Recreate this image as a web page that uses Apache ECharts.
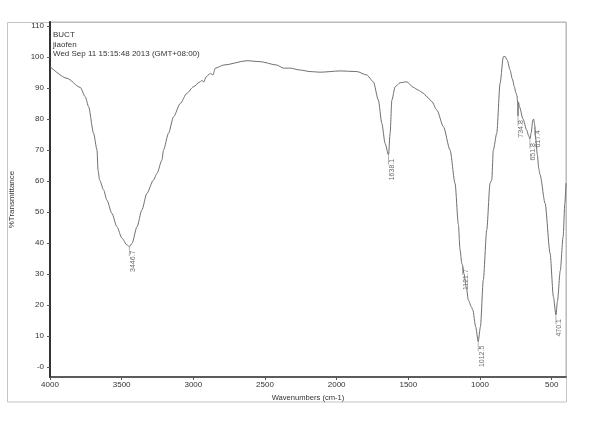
<!DOCTYPE html>
<html>
<head>
<meta charset="utf-8">
<script src="https://cdn.jsdelivr.net/npm/echarts@6/dist/echarts.min.js"></script>
<style>
  html, body { margin: 0; padding: 0; background: #fff; }
  #chart { width: 600px; height: 432px; }
</style>
</head>
<body>
<div id="chart"></div>
<script>
// spectrum, wavenumber (cm-1) and %T
const wavenumbers = [
  4000, 3881, 3789, 3754, 3731, 3696, 3672, 3665, 3654, 3626, 3603, 3568, 3533, 3498, 3463,
  3446.7, 3428, 3393, 3359, 3324, 3278, 3254, 3219, 3208, 3173, 3138, 3091, 3045, 2999,
  2952, 2940, 2929, 2910, 2882, 2863, 2847, 2789, 2626, 2534, 2417, 2371, 2324, 2255,
  2185, 2115, 1976, 1859, 1790, 1744, 1709, 1685, 1662, 1638.1, 1627, 1615, 1592, 1557,
  1511, 1465, 1430, 1395, 1371, 1336, 1301, 1255, 1209, 1174, 1151, 1139, 1127, 1121.7,
  1112, 1095, 1081, 1060, 1050, 1030, 1012.5, 997, 977, 953, 930, 918, 907, 883, 860,
  837, 825, 810, 790, 775, 760, 750, 742, 737, 734.8, 732, 725, 700, 675, 660, 651.8,
  643, 632, 626, 620, 617.4, 612, 600, 590, 581, 546, 511, 488, 470.1, 460, 440, 420,
  408, 400
];
const transmittance = [
  96.9, 93.1, 90.2, 87.2, 84.0, 75.4, 70.0, 63.5, 60.3, 57.1, 53.8, 49.5, 45.2, 41.5, 39.3,
  38.8, 39.8, 45.2, 50.6, 56.0, 60.3, 62.4, 66.7, 70.0, 75.4, 80.7, 85.0, 88.3, 90.4,
  92.0, 92.5, 91.9, 93.6, 94.7, 94.2, 96.4, 97.4, 98.8, 98.5, 97.4, 96.4, 96.4, 95.8,
  95.3, 95.1, 95.5, 95.3, 94.2, 92.0, 86.1, 78.6, 72.1, 68.4, 75.4, 86.1, 90.4, 91.7,
  92.0, 90.2, 89.3, 88.3, 87.2, 85.6, 82.9, 77.5, 70.0, 59.2, 46.0, 37.7, 33.4, 32.8,
  30.0, 25.5, 21.5, 19.3, 18.3, 12.9, 8.1, 12.9, 28.0, 44.1, 59.2, 60.3, 70.0, 75.4, 91.5,
  100.1, 100.2, 99.0, 95.8, 93.0, 90.4, 88.5, 87.5, 85.0, 80.9, 85.5, 84.0, 80.0, 76.5, 74.5, 73.5,
  75.5, 79.5, 80.0, 78.5, 77.7, 74.0, 68.5, 64.0, 62.0, 52.8, 36.6, 22.6, 16.7, 21.0, 31.0, 42.0,
  52.8, 59.3
];

// labelled peaks
const peakWavenumbers = [3446.7, 1638.1, 1121.7, 1012.5, 734.8, 651.8, 617.4, 470.1];
const peakValues = [38.8, 68.4, 32.8, 8.1, 80.9, 73.5, 77.7, 16.7];

const xTicks = [4000, 3500, 3000, 2500, 2000, 1500, 1000, 500];
const yTicks = [0, 10, 20, 30, 40, 50, 60, 70, 80, 90, 100, 110];
const yTickLabels = ['-0', '10', '20', '30', '40', '50', '60', '70', '80', '90', '100', '110'];

const headerLines = ['BUCT', 'jiaofen', 'Wed Sep 11 15:15:48 2013 (GMT+08:00)'];

const font = 'Liberation Sans';

const spectrum = wavenumbers.map((w, i) => [w, transmittance[i]]);
const peaks = peakWavenumbers.map((w, i) => [w, peakValues[i]]);

const chart = echarts.init(document.getElementById('chart'));

const option = {
  backgroundColor: '#fff',
  animation: false,
  grid: {
    left: 49.7, right: 34, top: 22, bottom: 55,
    show: true, borderColor: '#b5b5b5', borderWidth: 1
  },
  graphic: [
    {
      type: 'rect', silent: true, z: -1,
      shape: { x: 7.5, y: 22.5, width: 559, height: 379.5 },
      style: { fill: null, stroke: '#c4c4c4', lineWidth: 1 }
    },
    {
      type: 'group', left: 53, top: 31,
      children: headerLines.map((t, i) => ({
        type: 'text', y: i * 9.3,
        style: { text: t, font: '8px "' + font + '"', fill: '#333' }
      }))
    }
  ],
  xAxis: {
    type: 'value',
    inverse: true,
    min: 400, max: 4000,
    name: 'Wavenumbers (cm-1)',
    nameLocation: 'middle',
    nameGap: 16,
    nameTextStyle: { fontFamily: font, fontSize: 7.6, color: '#333' },
    axisLine: { show: true, onZero: false, lineStyle: { color: '#333', width: 1.6 } },
    axisTick: { show: true, length: 3, customValues: xTicks, lineStyle: { color: '#555' } },
    axisLabel: {
      customValues: xTicks, margin: 4,
      fontFamily: font, fontSize: 8, color: '#333',
      formatter: v => String(v)
    },
    splitLine: { show: false }
  },
  yAxis: {
    type: 'value',
    min: -3.3, max: 111.3,
    name: '%Transmittance',
    nameLocation: 'middle',
    nameGap: 34,
    nameTextStyle: { fontFamily: font, fontSize: 8, color: '#333' },
    axisLine: { show: true, onZero: false, lineStyle: { color: '#333', width: 2 } },
    axisTick: { show: true, length: 3, customValues: yTicks, lineStyle: { color: '#555' } },
    axisLabel: {
      customValues: yTicks, margin: 6,
      fontFamily: font, fontSize: 8, color: '#333',
      formatter: v => yTickLabels[yTicks.indexOf(Math.round(v))]
    },
    splitLine: { show: false }
  },
  series: [
    {
      type: 'line',
      data: spectrum,
      showSymbol: false,
      smooth: 0.25,
      smoothMonotone: 'x',
      lineStyle: { color: '#6f6f6f', width: 1 },
      silent: true
    },
    {
      type: 'scatter',
      data: peaks,
      symbol: 'rect',
      symbolSize: [0.8, 9],
      symbolOffset: [0, 5],
      itemStyle: { color: '#888' },
      label: {
        show: true,
        position: 'bottom',
        rotate: 90,
        align: 'right',
        verticalAlign: 'middle',
        offset: [10.5, 3.5],
        fontFamily: font, fontSize: 7, color: '#444',
        formatter: p => p.value[0].toFixed(1)
      },
      silent: true
    }
  ]
};

chart.setOption(option);
</script>
</body>
</html>
